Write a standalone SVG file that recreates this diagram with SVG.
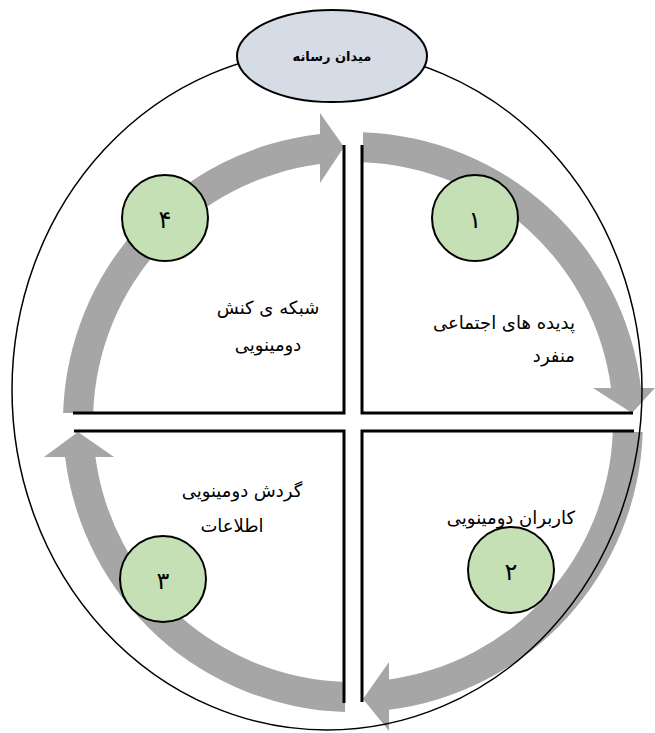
<svg xmlns="http://www.w3.org/2000/svg" width="655" height="733" viewBox="0 0 655 733">
<style>
.arrow{fill:#a6a6a6;stroke:none}
.qline{fill:none;stroke:#000;stroke-width:3}
.lbl{font-family:'DejaVu Sans',sans-serif;font-size:18px;fill:#000}
.num{font-family:'DejaVu Sans',sans-serif;font-size:24px;fill:#000;text-anchor:middle}
.step{fill:#c5e0b4;stroke:#000;stroke-width:2}
</style>
<rect width="655" height="733" fill="#fff"/>
<g id="connectors">
<path class="arrow" d="M363 132.2 A290 290 0 0 1 641 388 L655 388 L632 413 L593 388 L611 388 A260 260 0 0 0 363 162.2 Z"/>
<path class="arrow" d="M642.8 432 A290 290 0 0 1 389 709.8 L389 731 L363 699 L389 662 L389 679.5 A260 260 0 0 0 612.8 432 Z"/>
<path class="arrow" d="M345 711.9 A290 290 0 0 1 65.1 457 L44 457 L78 432 L114 457 L95.4 457 A260 260 0 0 0 345 681.9 Z"/>
<path class="arrow" d="M63.1 413 A290 290 0 0 1 320 133.9 L320 113 L344 147 L320 183 L320 164.1 A260 260 0 0 0 93.2 413 Z"/>
</g>
<g id="quadrant-4">
<path class="qline" d="M344 145 V413 H73"/>
<text class="lbl" x="268" y="314" text-anchor="middle">شبکه ی کنش</text>
<text class="lbl" x="268" y="351" text-anchor="middle">دومینویی</text>
</g>
<g id="quadrant-1">
<path class="qline" d="M362 145 V413 H633"/>
<text class="lbl" x="575" y="329" text-anchor="end">پدیده های اجتماعی</text>
<text class="lbl" x="575" y="362" text-anchor="end">منفرد</text>
</g>
<g id="quadrant-2">
<path class="qline" d="M634 431 H362 V702"/>
<text class="lbl" x="575" y="524" text-anchor="end">کاربران دومینویی</text>
</g>
<g id="quadrant-3">
<path class="qline" d="M74 431 H344 V703"/>
<text class="lbl" x="242" y="497" text-anchor="middle">گردش دومینویی</text>
<text class="lbl" x="232" y="532" text-anchor="middle">اطلاعات</text>
</g>
<g id="field">
<ellipse cx="327" cy="390" rx="315" ry="340" fill="none" stroke="#000" stroke-width="1.5"/>
</g>
<g id="title">
<ellipse cx="332" cy="56" rx="95" ry="46" fill="#d6dce5" stroke="#000" stroke-width="2"/>
<text x="332" y="61" text-anchor="middle" style="font-family:'DejaVu Sans',sans-serif;font-size:13px;font-weight:bold">میدان رسانه</text>
</g>
<g id="step-1"><circle class="step" cx="475" cy="218" r="43"/><text class="num" x="475" y="228">۱</text></g>
<g id="step-2"><circle class="step" cx="511" cy="570" r="43"/><text class="num" x="511" y="580">۲</text></g>
<g id="step-3"><circle class="step" cx="163" cy="579" r="43"/><text class="num" x="163" y="589">۳</text></g>
<g id="step-4"><circle class="step" cx="165" cy="218" r="43"/><text class="num" x="165" y="228">۴</text></g>
</svg>
